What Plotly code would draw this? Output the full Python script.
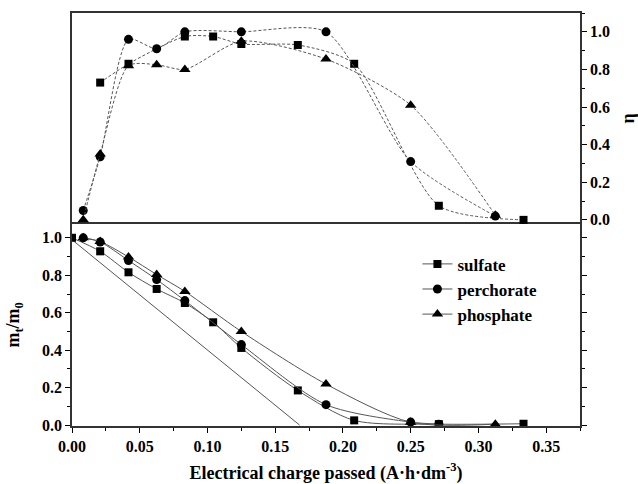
import plotly.graph_objects as go

# ---- data: top panel (eta) ----
eta_sulf_x = [0.0208, 0.0417, 0.0833, 0.1042, 0.125, 0.1667, 0.2083, 0.2708, 0.3333]
eta_sulf_y = [0.73, 0.83, 0.975, 0.975, 0.935, 0.93, 0.83, 0.075, 0.0]

eta_perc_x = [0.0083, 0.0208, 0.0417, 0.0625, 0.0833, 0.125, 0.1875, 0.25, 0.3125]
eta_perc_y = [0.05, 0.335, 0.96, 0.91, 1.0, 1.0, 1.0, 0.31, 0.02]

eta_phos_x = [0.0083, 0.0208, 0.0417, 0.0625, 0.0833, 0.125, 0.1875, 0.25, 0.3125]
eta_phos_y = [0.0, 0.35, 0.82, 0.825, 0.80, 0.95, 0.855, 0.61, 0.025]

# ---- data: bottom panel (mt/m0) ----
m_sulf_x = [0.0, 0.0208, 0.0417, 0.0625, 0.0833, 0.1042, 0.125, 0.1667, 0.2083, 0.2708, 0.3333]
m_sulf_y = [1.0, 0.928, 0.816, 0.727, 0.652, 0.549, 0.412, 0.185, 0.025, 0.005, 0.007]

m_perc_x = [0.0083, 0.0208, 0.0417, 0.0625, 0.0833, 0.125, 0.1875, 0.25, 0.2708]
m_perc_y = [1.0, 0.978, 0.879, 0.777, 0.665, 0.43, 0.109, 0.016, 0.005]

m_phos_x = [0.0083, 0.0208, 0.0417, 0.0625, 0.0833, 0.125, 0.1875, 0.25, 0.3125]
m_phos_y = [1.0, 0.98, 0.898, 0.804, 0.714, 0.50, 0.219, 0.015, 0.005]

theory_x = [0.0, 0.168]
theory_y = [0.99, 0.0]

names = ["sulfate", "perchorate", "phosphate"]
symbols = ["square", "circle", "triangle-up"]
msizes = [8, 9, 10]

FONT = "Times New Roman, Liberation Serif, serif"
fig = go.Figure()

top_sets = [(eta_sulf_x, eta_sulf_y), (eta_perc_x, eta_perc_y), (eta_phos_x, eta_phos_y)]
bot_sets = [(m_sulf_x, m_sulf_y), (m_perc_x, m_perc_y), (m_phos_x, m_phos_y)]

for (x, y), nm, sym, ms in zip(top_sets, names, symbols, msizes):
    fig.add_trace(go.Scatter(
        x=x, y=y, mode="lines+markers", name=nm, showlegend=False,
        line=dict(color="#555555", width=1, dash="3px,2px", shape="spline", smoothing=0.7),
        marker=dict(symbol=sym, size=ms, color="black"),
        xaxis="x2", yaxis="y2", cliponaxis=False))

fig.add_trace(go.Scatter(
    x=theory_x, y=theory_y, mode="lines", showlegend=False,
    line=dict(color="#555555", width=1), xaxis="x", yaxis="y"))

for (x, y), nm, sym, ms in zip(bot_sets, names, symbols, msizes):
    fig.add_trace(go.Scatter(
        x=x, y=y, mode="lines+markers", name=nm,
        line=dict(color="#555555", width=1, shape="spline", smoothing=0.8),
        marker=dict(symbol=sym, size=ms, color="black"),
        xaxis="x", yaxis="y"))

tickfont = dict(family=FONT, size=16, color="black", weight="bold")
titlefont = dict(family=FONT, size=18, color="black", weight="bold")

fig.update_layout(
    width=638, height=484,
    margin=dict(l=72, r=58, t=13, b=58),
    paper_bgcolor="white", plot_bgcolor="white",
    font=dict(family=FONT, color="black", weight="bold"),
    showlegend=True,
    legend=dict(x=0.68, y=0.435, xanchor="left", yanchor="top",
                bgcolor="rgba(0,0,0,0)", font=dict(family=FONT, size=17, color="black", weight="bold"),
                tracegroupgap=0, itemwidth=30),
    xaxis=dict(domain=[0, 1], range=[0, 0.375], tickvals=[0, 0.05, 0.1, 0.15, 0.2, 0.25, 0.3, 0.35],
               ticktext=["0.00", "0.05", "0.10", "0.15", "0.20", "0.25", "0.30", "0.35"],
               ticks="outside", ticklen=5, tickwidth=1, tickcolor="black",
               minor=dict(dtick=0.025, tick0=0, ticks="outside", ticklen=3, tickcolor="black"),
               showline=True, linecolor="#333333", linewidth=1.5, mirror=True,
               showgrid=False, zeroline=False, tickfont=tickfont, automargin=False,
               title=dict(text="Electrical charge passed (A·h·dm<sup>-3</sup>)", font=titlefont, standoff=12)),
    yaxis=dict(domain=[0, 0.49], range=[-0.005, 1.076], tickvals=[0, 0.2, 0.4, 0.6, 0.8, 1.0],
               ticktext=["0.0", "0.2", "0.4", "0.6", "0.8", "1.0"],
               ticks="outside", ticklen=5, tickwidth=1, tickcolor="black",
               minor=dict(dtick=0.1, tick0=0, ticks="outside", ticklen=3, tickcolor="black"),
               showline=True, linecolor="#333333", linewidth=1.5, mirror="ticks",
               showgrid=False, zeroline=False, tickfont=tickfont, automargin=False,
               title=dict(text="m<sub>t</sub>/m<sub>0</sub>", font=titlefont, standoff=18)),
    xaxis2=dict(domain=[0, 1], range=[0, 0.375], anchor="y2", matches="x", side="top",
                showticklabels=False, ticks="", showline=True, linecolor="#333333",
                linewidth=1.5, mirror=False, showgrid=False, zeroline=False, automargin=False),
    yaxis2=dict(domain=[0.49, 1], range=[-0.02, 1.10], anchor="x2", side="right",
                tickvals=[0, 0.2, 0.4, 0.6, 0.8, 1.0],
                ticktext=["0.0", "0.2", "0.4", "0.6", "0.8", "1.0"],
                ticks="outside", ticklen=5, tickwidth=1, tickcolor="black",
                minor=dict(dtick=0.1, tick0=0, ticks="outside", ticklen=3, tickcolor="black"),
                showline=True, linecolor="#333333", linewidth=1.5, mirror=True,
                showgrid=False, zeroline=False, tickfont=tickfont, automargin=False,
                title=dict(text="η", font=titlefont, standoff=24)),
)

fig.write_html("out.html")
